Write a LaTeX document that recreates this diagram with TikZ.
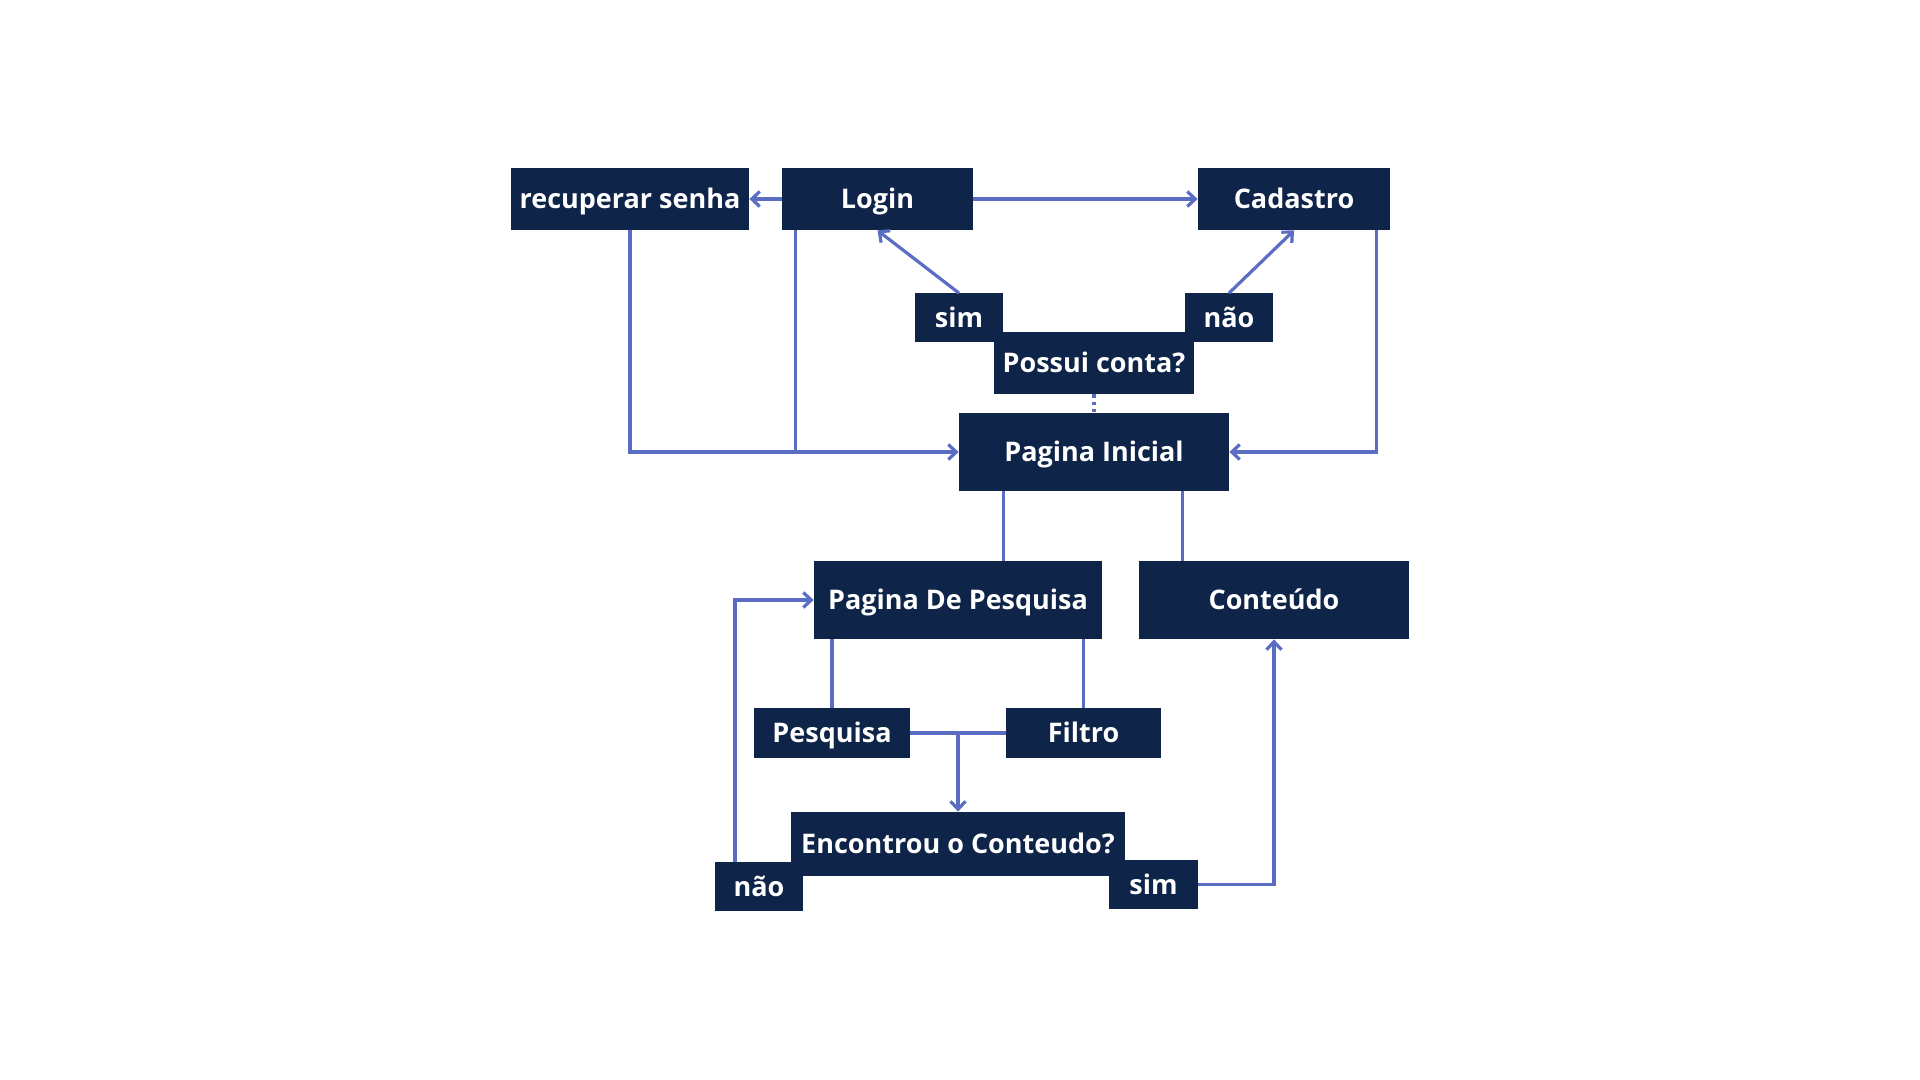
\documentclass[tikz,border=0pt]{standalone}
\usepackage{fontspec}
\setmainfont{Open Sans}
\usetikzlibrary{positioning,arrows.meta}
\usepackage{xcolor}
\definecolor{navy}{HTML}{0F2449}
\definecolor{linkblue}{HTML}{5A6DC2}

\begin{document}
\begin{tikzpicture}[x=0.5pt,y=-0.5pt,
  box/.style={rectangle,fill=navy,text=white,inner sep=0pt,text height=0.97em,text depth=0em,font=\bfseries\fontsize{13.5}{16}\selectfont},
  link/.style={draw=linkblue,line width=1.6pt},
  >={Straight Barb[length=4pt,width=7.5pt]}]
\useasboundingbox (0,0) rectangle (1920,1080);

\node [box,minimum width=119pt,minimum height=31pt] (recup) at (630,199) {recuperar senha};
\node [box,minimum width=95.5pt,minimum height=31pt] (login) at (877.5,199) {Login};
\node [box,minimum width=96pt,minimum height=31pt] (cadastro) at (1294,199) {Cadastro};

\node [box,minimum width=44pt,minimum height=24.5pt] (simA) at (959,318) {sim};
\node [box,minimum width=44pt,minimum height=24.5pt] (naoA) at (1229,318) {não};
\node [box,minimum width=100pt,minimum height=31pt] (possui) at (1094,363) {Possui conta?};

\node [box,minimum width=135pt,minimum height=39pt] (inicial) at (1094,452) {Pagina Inicial};
\node [box,minimum width=144pt,minimum height=39pt] (pagpesq) at (958,600) {Pagina De Pesquisa};
\node [box,minimum width=135pt,minimum height=39pt] (conteudo) at (1274,600) {Conteúdo};

\node [box,minimum width=78pt,minimum height=25pt] (pesq) at (832,733) {Pesquisa};
\node [box,minimum width=77.5pt,minimum height=25pt] (filtro) at (1083.5,733) {Filtro};

\node [box,minimum width=44pt,minimum height=24.5pt] (naoB) at (759,886.5) {não};
\node [box,minimum width=44.5pt,minimum height=24.5pt] (simB) at (1153.5,884.5) {sim};
\node [box,minimum width=167pt,minimum height=32pt] (encontrou) at (958,844) {Encontrou o Conteudo?};

% top row
\draw [link,->] (login) -- (recup);
\draw [link,->] (login) -- (cadastro);
\draw [link,->] (simA.north) -- (login.south);
\draw [link,->] (naoA.north) -- (cadastro.south);
\draw [link,dotted] (possui.south) -- (inicial.north);

% back to the home page
\coordinate (lgdrop) at ([xshift=7pt]login.south west);
\draw [link,->] (recup.south) |- (inicial.west);
\draw [link] (lgdrop) -- (lgdrop |- inicial.west);
\draw [link,->] ([xshift=-7pt]cadastro.south east) |- (inicial.east);

% home page below
\draw [link] ([xshift=22.5pt]inicial.south west) -- ([xshift=22.5pt]inicial.south west |- pagpesq.north);
\draw [link] ([xshift=-23.5pt]inicial.south east) -- ([xshift=-23.5pt]inicial.south east |- conteudo.north);

% search
\draw [link] (pesq.north) -- (pesq.north |- pagpesq.south);
\draw [link] (filtro.north) -- (filtro.north |- pagpesq.south);
\draw [link] (pesq.east) -- (filtro.west);
\draw [link,->] (encontrou.north |- pesq.east) -- (encontrou.north);

\draw [link,->] ([xshift=-12pt]naoB.north) |- (pagpesq.west);
\draw [link,->] (simB.east) -| (conteudo.south);
\end{tikzpicture}
\end{document}
